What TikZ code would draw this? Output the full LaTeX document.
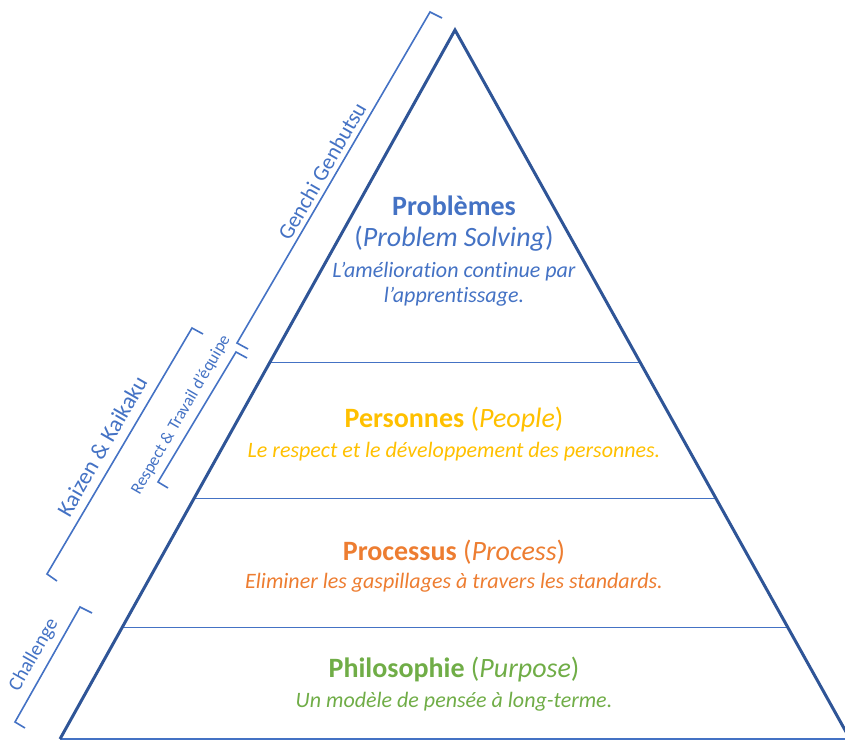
\documentclass[tikz,border=0pt]{standalone}
\usepackage{fontspec}
\setmainfont{Carlito}[Ligatures=NoCommon]
\usetikzlibrary{calc}

\definecolor{pyrblue}{HTML}{4472C4}
\definecolor{pyredge}{HTML}{2F5597}
\definecolor{pyrgold}{HTML}{FFC000}
\definecolor{pyrorange}{HTML}{ED7D31}
\definecolor{pyrgreen}{HTML}{70AD47}

\begin{document}
\begin{tikzpicture}[x=1pt, y=-1pt,
	side/.style={draw=pyredge, line width=3pt},
	layer/.style={draw=pyrblue, line width=1.4pt},
	bracket/.style={draw=pyrblue, line width=1.6pt},
	head/.style={anchor=base, font=\fontsize{28}{32}\selectfont},
	sub/.style={anchor=base, font=\fontsize{22}{25}\selectfont\itshape},
	side label/.style={font=\fontsize{#1}{#1}\selectfont, text=pyrblue, rotate=60, inner sep=0pt}]

	\useasboundingbox (0,0) rectangle (845,740);

	\coordinate (T) at (455,30);
	\coordinate (L) at (60,739);
	\coordinate (R) at (850,739);

	% layers
	\draw[layer] (L) -- (R);
	\draw[layer] ($(T)!0.469!(L)$) -- ($(T)!0.469!(R)$);
	\draw[layer] ($(T)!0.661!(L)$) -- ($(T)!0.661!(R)$);
	\draw[layer] ($(T)!0.843!(L)$) -- ($(T)!0.843!(R)$);

	% triangle sides
	\draw[side] (L) -- (T) -- (R);

	% brackets on the left
	\draw[bracket] (442,18) -- (430,12) -- (237,343) -- (248,349);
	\draw[bracket] (247,358) -- (236,352) -- (158,482) -- (168,488);
	\draw[bracket] (203,334) -- (192,328) -- (47,574) -- (57,581);
	\draw[bracket] (92,613) -- (80,607) -- (15,722) -- (25,728);

	% bracket labels
	\node[side label=22] (genchi) at (322,171) {Genchi Genbutsu};
	\node[side label=17] (respect) at (181,415) {Respect \& Travail d’équipe};
	\node[side label=23] (kaizen) at (102,446) {Kaizen \& Kaikaku};
	\node[side label=20] (challenge) at (34,655) {Challenge};

	% level texts
	\node[head, text=pyrblue] (problemes) at (454,215) {\bfseries Problèmes};
	\node[head, text=pyrblue] (solving) at (454,246) {(\textit{Problem Solving})};
	\node[sub, text=pyrblue] (amelio) at (454,277) {L’amélioration continue par};
	\node[sub, text=pyrblue] (apprent) at (454,302) {l’apprentissage.};

	\node[head, text=pyrgold] (personnes) at (454,427) {\textbf{Personnes} (\textit{People})};
	\node[sub, text=pyrgold] (respectsub) at (454,457) {Le respect et le développement des personnes.};

	\node[head, text=pyrorange] (processus) at (454,560) {\textbf{Processus} (\textit{Process})};
	\node[sub, text=pyrorange] (gaspi) at (454,588) {Eliminer les gaspillages à travers les standards.};

	\node[head, text=pyrgreen] (philo) at (454,677) {\textbf{Philosophie} (\textit{Purpose})};
	\node[sub, text=pyrgreen] (pensee) at (454,707) {Un modèle de pensée à long-terme.};

\end{tikzpicture}
\end{document}
